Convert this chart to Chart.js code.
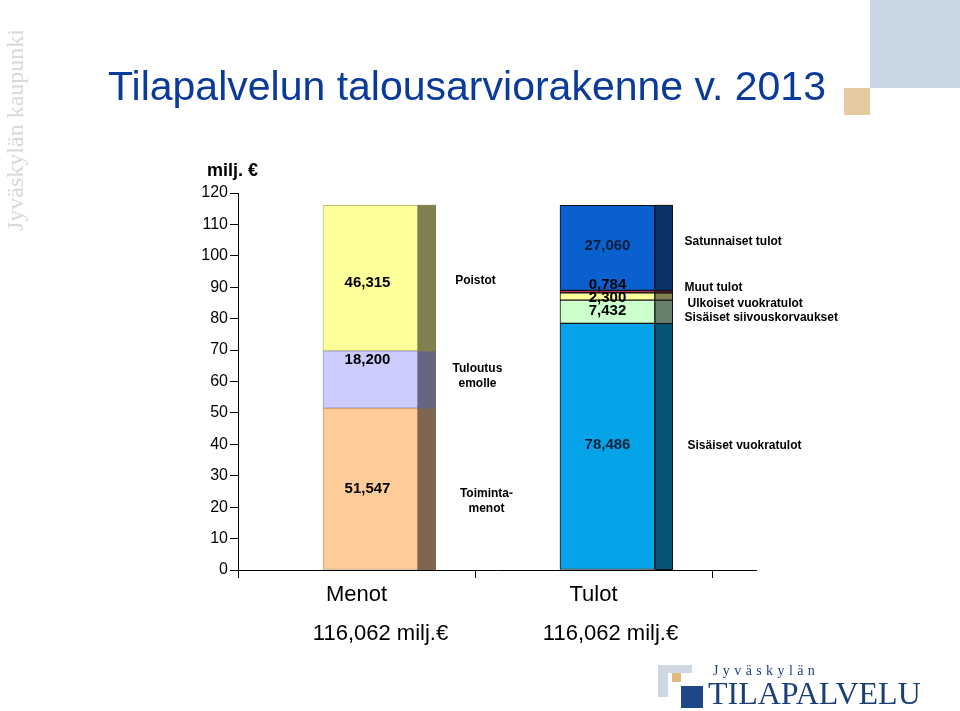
<!DOCTYPE html>
<html>
<head>
<meta charset="utf-8">
<script src="https://cdn.jsdelivr.net/npm/chart.js@4.4.1/dist/chart.umd.min.js"></script>
<style>
  html, body { margin: 0; padding: 0; background: #fff; }
  #wrap { position: relative; width: 960px; height: 711px; overflow: hidden; font-family: "Liberation Sans", Arial, sans-serif; }
  #chart { position: absolute; left: 0; top: 0; }
  .abs { position: absolute; white-space: nowrap; }
</style>
</head>
<body>
<div id="wrap">
  <canvas id="chart" width="960" height="711"></canvas>

  <div class="abs" style="left:0;top:231px;width:210px;line-height:30px;font-family:'Liberation Serif',serif;font-size:24px;color:#d8d8d8;transform:rotate(-90deg);transform-origin:0 0;">Jyväskylän kaupunki</div>
  <div class="abs" style="left:108px;top:66px;font-size:41px;line-height:41px;color:#0a3a9a;">Tilapalvelun talousarviorakenne v. 2013</div>
  <div class="abs" style="left:207px;top:161px;font-size:18px;line-height:18px;font-weight:bold;">milj. €</div>

  <div class="abs" style="left:870px;top:0;width:90px;height:88px;background:#c9d7e4;"></div>
  <div class="abs" style="left:844px;top:88px;width:26px;height:27px;background:#e7c9a0;"></div>

  <div class="abs" style="left:658px;top:665px;width:34px;height:32px;background:#cdd8e3;"></div>
  <div class="abs" style="left:668px;top:673px;width:26px;height:24px;background:#fff;"></div>
  <div class="abs" style="left:672px;top:673px;width:9px;height:9px;background:#e0b97f;"></div>
  <div class="abs" style="left:681px;top:686px;width:22px;height:22px;background:#1d4786;"></div>
  <div class="abs" style="left:713px;top:663px;font-family:'Liberation Serif',serif;font-size:14px;letter-spacing:4.4px;color:#1d3f78;">Jyväskylän</div>
  <div class="abs" style="left:708px;top:675px;font-family:'Liberation Serif',serif;font-size:32px;line-height:36px;color:#1d3f78;">TILAPALVELU</div>
</div>

<script>
const categories = ['Menot', 'Tulot'];

const menotNames = ['Toimintamenot', 'Tuloutus emolle', 'Poistot'];
const menotLines = [['Toiminta-', 'menot'], ['Tuloutus', 'emolle'], ['Poistot']];
const menotValues = [51.547, 18.200, 46.315];

const tulotNames = ['Sisäiset vuokratulot', 'Sisäiset siivouskorvaukset', 'Ulkoiset vuokratulot', 'Muut tulot', 'Satunnaiset tulot'];
const tulotLines = [['Sisäiset vuokratulot'], ['Sisäiset siivouskorvaukset'], ['Ulkoiset vuokratulot'], ['Muut tulot'], ['Satunnaiset tulot']];
const tulotValues = [78.486, 7.432, 2.300, 0.784, 27.060];

const yMin = 0;
const yMax = 120;
const yStep = 10;
const unitText = 'milj.€';

// styles
const menotFront = ['#ffcc99', '#ccccff', '#ffff99'];
const menotSide = ['#806650', '#666680', '#808050'];
const menotEdge = ['#c09a74', '#9c9cc4', '#bdbd70'];
const tulotFront = ['#05a4e8', '#ccffcc', '#ffff99', '#b03060', '#0b60cf'];
const tulotSide = ['#045476', '#66806a', '#808050', '#581830', '#0a3268'];

// label nudges (px) per segment
const menotValueDy = [0, -20, 5];
const menotNameDy = [12, -3, 3];
const menotNameDx = [9, 0, -2];
const tulotValueDy = [-2, -1, 1, -7, -2];
const tulotNameDy = [-1, 6, 7, -4, -6];
const tulotNameDx = [3, 0, 3, 0, 0];

const DEPTH = 17.5;
const FONT = '"Liberation Sans", Arial, sans-serif';

function fmt(v) {
  return v.toFixed(3).replace('.', ',');
}

const datasets = [];
menotValues.forEach(function (v, i) {
  datasets.push({
    label: menotNames[i],
    data: [{ x: categories.indexOf('Menot'), y: v }],
    stack: 'menot',
    backgroundColor: menotFront[i],
    borderColor: menotEdge[i],
    sideColor: menotSide[i],
    sideEdge: menotSide[i],
    group: 'menot',
    idx: i
  });
});
tulotValues.forEach(function (v, i) {
  datasets.push({
    label: tulotNames[i],
    data: [{ x: categories.indexOf('Tulot'), y: v }],
    stack: 'tulot',
    backgroundColor: tulotFront[i],
    borderColor: '#111',
    sideColor: tulotSide[i],
    sideEdge: '#111',
    group: 'tulot',
    idx: i
  });
});
datasets.forEach(function (d) {
  d.xAxisID = 'xb';
  d.yAxisID = 'y';
  d.barThickness = 95;
  d.grouped = false;
  d.borderWidth = 1;
  d.borderSkipped = false;
});

const decor = {
  id: 'decor',
  afterDatasetsDraw(chart) {
    const ctx = chart.ctx;
    const area = chart.chartArea;
    ctx.save();

    // darker side face of each block
    chart.data.datasets.forEach(function (ds, di) {
      chart.getDatasetMeta(di).data.forEach(function (el) {
        const p = el.getProps(['x', 'y', 'base', 'width'], true);
        const left = p.x + p.width / 2;
        ctx.fillStyle = ds.sideColor;
        ctx.fillRect(left, p.y, DEPTH, p.base - p.y);
        ctx.strokeStyle = ds.sideEdge;
        ctx.lineWidth = 1;
        ctx.strokeRect(left, p.y, DEPTH, p.base - p.y);
      });
    });

    // floor line
    ctx.strokeStyle = '#000';
    ctx.lineWidth = 1;
    ctx.beginPath();
    ctx.moveTo(area.left, Math.round(area.bottom) + 0.5);
    ctx.lineTo(area.right + 45, Math.round(area.bottom) + 0.5);
    ctx.stroke();

    // values and names
    ctx.fillStyle = '#000';
    ctx.textBaseline = 'middle';
    chart.data.datasets.forEach(function (ds, di) {
      const el = chart.getDatasetMeta(di).data[0];
      const p = el.getProps(['x', 'y', 'base', 'width'], true);
      const mid = (p.y + p.base) / 2;
      const i = ds.idx;
      const v = ds.data[0].y;
      ctx.font = 'bold 15px ' + FONT;
      ctx.textAlign = 'center';
      if (ds.group === 'menot') {
        ctx.fillText(fmt(v), p.x - 3, mid + menotValueDy[i]);
        ctx.font = 'bold 12px ' + FONT;
        const lines = menotLines[i];
        const top = mid + menotNameDy[i] - (lines.length - 1) * 7.5;
        lines.forEach(function (t, k) {
          ctx.fillText(t, p.x + 107 + menotNameDx[i], top + k * 15);
        });
      } else {
        ctx.fillStyle = i === 4 || i === 0 ? '#0a1f3a' : '#000';
        ctx.fillText(fmt(v), p.x, mid + tulotValueDy[i]);
        ctx.fillStyle = '#000';
        ctx.font = 'bold 12px ' + FONT;
        ctx.textAlign = 'left';
        ctx.fillText(tulotLines[i][0], p.x + 77 + tulotNameDx[i], mid + tulotNameDy[i]);
      }
    });

    // totals under the categories
    ctx.font = '22px ' + FONT;
    ctx.textAlign = 'center';
    const menotTotal = menotValues.reduce(function (a, b) { return a + b; }, 0);
    const tulotTotal = tulotValues.reduce(function (a, b) { return a + b; }, 0);
    const mEl = chart.getDatasetMeta(0).data[0];
    const tEl = chart.getDatasetMeta(menotValues.length).data[0];
    ctx.fillText(fmt(menotTotal) + ' ' + unitText, mEl.x + 10, 634);
    ctx.fillText(fmt(tulotTotal) + ' ' + unitText, tEl.x + 3, 634);

    ctx.restore();
  }
};

Chart.defaults.font.family = FONT;
Chart.defaults.color = '#000';

new Chart(document.getElementById('chart').getContext('2d'), {
  type: 'bar',
  data: { labels: categories, datasets: datasets },
  options: {
    responsive: false,
    animation: false,
    layout: { padding: { left: 0, top: 193, right: 248, bottom: 0 } },
    plugins: { legend: { display: false }, tooltip: { enabled: false } },
    scales: {
      x: {
        type: 'category',
        position: 'bottom',
        grid: { offset: true, drawOnChartArea: false, tickLength: 8, color: '#000' },
        border: { display: false },
        ticks: { font: { size: 22 }, color: '#000', padding: 4 },
        afterFit: function (s) { s.height = 141; }
      },
      xb: {
        type: 'linear',
        axis: 'x',
        display: false,
        offset: false,
        grid: { offset: false },
        min: -0.559,
        max: 1.441,
        stacked: true
      },
      y: {
        stacked: true,
        min: yMin,
        max: yMax,
        ticks: { stepSize: yStep, font: { size: 16 }, color: '#000', padding: 2 },
        grid: { drawOnChartArea: false, tickLength: 8, color: '#000' },
        border: { color: '#000', width: 1 },
        afterFit: function (s) { s.width = 238; }
      }
    }
  },
  plugins: [decor]
});
</script>
</body>
</html>
